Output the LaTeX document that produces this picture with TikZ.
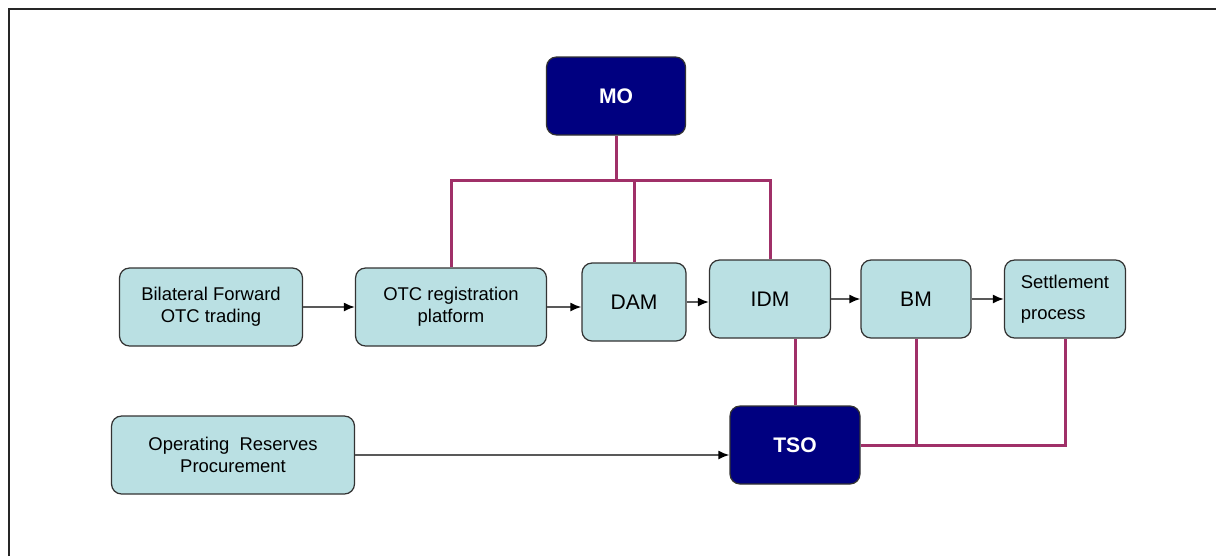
\documentclass[tikz,border=0pt]{standalone}
\usepackage{fontspec}
\setmainfont{Liberation Sans}
\usetikzlibrary{arrows.meta}
\definecolor{boxfill}{RGB}{186,224,227}
\definecolor{darkfill}{RGB}{0,0,128}
\definecolor{linkcol}{RGB}{160,48,104}
\tikzset{
    box/.style={draw=black!80, fill=boxfill, rounded corners=0.2cm, line width=0.7pt,
        minimum height=1.56cm, align=center, font=\fontsize{10.5}{12.5}\selectfont},
    darkbox/.style={box, fill=darkfill, text=white, font=\fontsize{12}{14}\selectfont\bfseries},
    link/.style={draw=linkcol, line width=1.7pt},
    flow/.style={draw=black!65, line width=1pt, -{Latex[length=2.2mm,width=1.8mm,color=black]}}
}
\begin{document}
\begin{tikzpicture}[x=0.02cm, y=-0.02cm]
        \useasboundingbox (0,0) rectangle (1216,556);
        \draw[black!85, line width=1.3pt] (9,556) -- (9,9) -- (1216,9);

        \node[darkbox, minimum width=2.78cm] (mo) at (616,96) {MO};
        \node[box, minimum width=3.66cm] (bil) at (211,307) {Bilateral Forward\\OTC trading};
        \node[box, minimum width=3.82cm] (otc) at (451,307) {OTC registration\\platform};
        \node[box, minimum width=2.08cm, font=\fontsize{12}{14}\selectfont] (dam) at (634,302) {DAM};
        \node[box, minimum width=2.42cm, font=\fontsize{12}{14}\selectfont] (idm) at (770,299) {IDM};
        \node[box, minimum width=2.2cm, font=\fontsize{12}{14}\selectfont] (bm) at (916,299) {BM};
        \node[box, minimum width=2.42cm, align=left] (settle) at (1065,299) {Settlement\\[5pt]process};
        \node[box, minimum width=4.86cm] (opr) at (233,455) {Operating\ \ Reserves\\Procurement};
        \node[darkbox, minimum width=2.6cm] (tso) at (795,445) {TSO};
        \coordinate (mobus) at (616,180);

        \draw[link] (mo.south) -- (mobus);
        \draw[link] (otc.north) |- (idm.north |- mobus) -- (idm.north);
        \draw[link] (dam.north) -- (dam.north |- mobus);
        \draw[link] (tso.north) -- (tso.north |- idm.south);
        \draw[link] (tso.east) -| (settle.south);
        \draw[link] (bm.south) -- (bm.south |- tso.east);

        \draw[flow] (bil.east) -- (otc.west);
        \draw[flow] (otc.east) -- (otc.east -| dam.west);
        \draw[flow] (dam.east) -- (dam.east -| idm.west);
        \draw[flow] (idm.east) -- (bm.west);
        \draw[flow] (bm.east) -- (settle.west);
        \draw[flow] (opr.east) -- (opr.east -| tso.west);
    \end{tikzpicture}
\end{document}
